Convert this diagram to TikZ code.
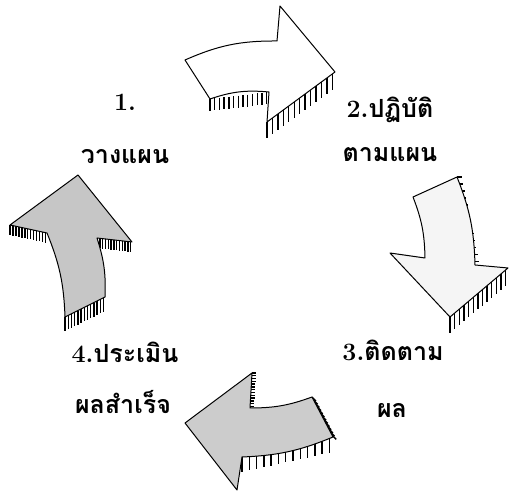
\documentclass[tikz,border=0pt]{standalone}
\usepackage{fontspec}
\newfontfamily\thaifont[Script=Thai]{Loma}
\usetikzlibrary{calc}

\tikzset{
  arrowshape/.style={draw, line width=1pt, line join=round},
  hatch/.style={line width=1.4pt},
  steplabel/.style={font=\thaifont\bfseries\fontsize{25}{27}\selectfont, inner sep=0pt}
}
% short shadow strokes hanging from a straight edge
\newcommand\hatchalong[4]{\foreach \t in {0,0.08,...,1} \draw[hatch] ($(#1)!\t!(#2)$) -- ++(#3,#4);}
\newcommand\num[1]{{\rmfamily\bfseries #1}}

\begin{document}
\begin{tikzpicture}[x=1pt, y=-1pt]
  \useasboundingbox (0,0) rectangle (512,502);
  % arrow 1: plan -> do
  \coordinate (a1tail) at (185,60); \coordinate (a1top) at (277,41);
  \coordinate (a1head) at (280,6);  \coordinate (a1tip) at (335,72);
  \coordinate (a1low) at (267,122); \coordinate (a1notch) at (269,92);
  \coordinate (a1bot) at (210,99);
  \hatchalong{a1bot}{a1notch}{0}{12}
  \hatchalong{a1low}{a1tip}{0}{16}
  \draw[arrowshape, fill=white] (a1tail) to[bend left=12] (a1top) -- (a1head) -- (a1tip) -- (a1low) -- (a1notch) to[bend right=12] (a1bot) -- cycle;
  % arrow 2: do -> check
  \coordinate (a2tl) at (413,197); \coordinate (a2tr) at (457,177);
  \coordinate (a2rs) at (475,265); \coordinate (a2hr) at (508,268);
  \coordinate (a2tip) at (450,317); \coordinate (a2hl) at (390,253);
  \coordinate (a2notch) at (425,258);
  \hatchalong{a2tr}{a2rs}{5}{0}
  \hatchalong{a2tip}{a2hr}{0}{16}
  \draw[arrowshape, fill=gray!8] (a2tl) -- (a2tr) to[bend left=10] (a2rs) -- (a2hr) -- (a2tip) -- (a2hl) -- (a2notch) to[bend right=10] cycle;
  % arrow 3: check -> act
  \coordinate (a3tip) at (185,423); \coordinate (a3head) at (252,373);
  \coordinate (a3notch) at (250,408); \coordinate (a3top) at (312,397);
  \coordinate (a3tail) at (333,437); \coordinate (a3bot) at (242,457);
  \coordinate (a3low) at (237,490);
  \hatchalong{a3head}{a3notch}{4}{0}
  \hatchalong{a3bot}{a3tail}{0}{15}
  \hatchalong{a3top}{a3tail}{4}{4}
  \draw[arrowshape, fill=gray!40] (a3tip) -- (a3head) -- (a3notch) to[bend right=10] (a3top) -- (a3tail) to[bend left=10] (a3bot) -- (a3low) -- cycle;
  % arrow 4: act -> plan
  \coordinate (a4tip) at (78,175); \coordinate (a4hr) at (132,242);
  \coordinate (a4notch) at (97,238); \coordinate (a4rs) at (105,297);
  \coordinate (a4tail) at (65,317); \coordinate (a4ls) at (47,233);
  \coordinate (a4hl) at (10,225);
  \hatchalong{a4hl}{a4ls}{0}{10}
  \hatchalong{a4notch}{a4hr}{0}{10}
  \hatchalong{a4tail}{a4rs}{0}{14}
  \draw[arrowshape, fill=gray!45] (a4tip) -- (a4hr) -- (a4notch) to[bend left=10] (a4rs) -- (a4tail) to[bend right=10] (a4ls) -- (a4hl) -- cycle;
  % labels
  \node[steplabel] (plan) at (125,102) {\num{1.}};
  \node[steplabel] (plantext) at (125,157) {วางแผน};
  \node[steplabel] (do) at (390,110) {\num{2.}ปฏิบัติ};
  \node[steplabel] (dotext) at (390,155) {ตามแผน};
  \node[steplabel] (check) at (393,350) {\num{3.}ติดตาม};
  \node[steplabel] (checktext) at (392,411) {ผล};
  \node[steplabel] (act) at (125,352) {\num{4.}ประเมิน};
  \node[steplabel] (acttext) at (123,402) {ผลสำเร็จ};
\end{tikzpicture}
\end{document}
